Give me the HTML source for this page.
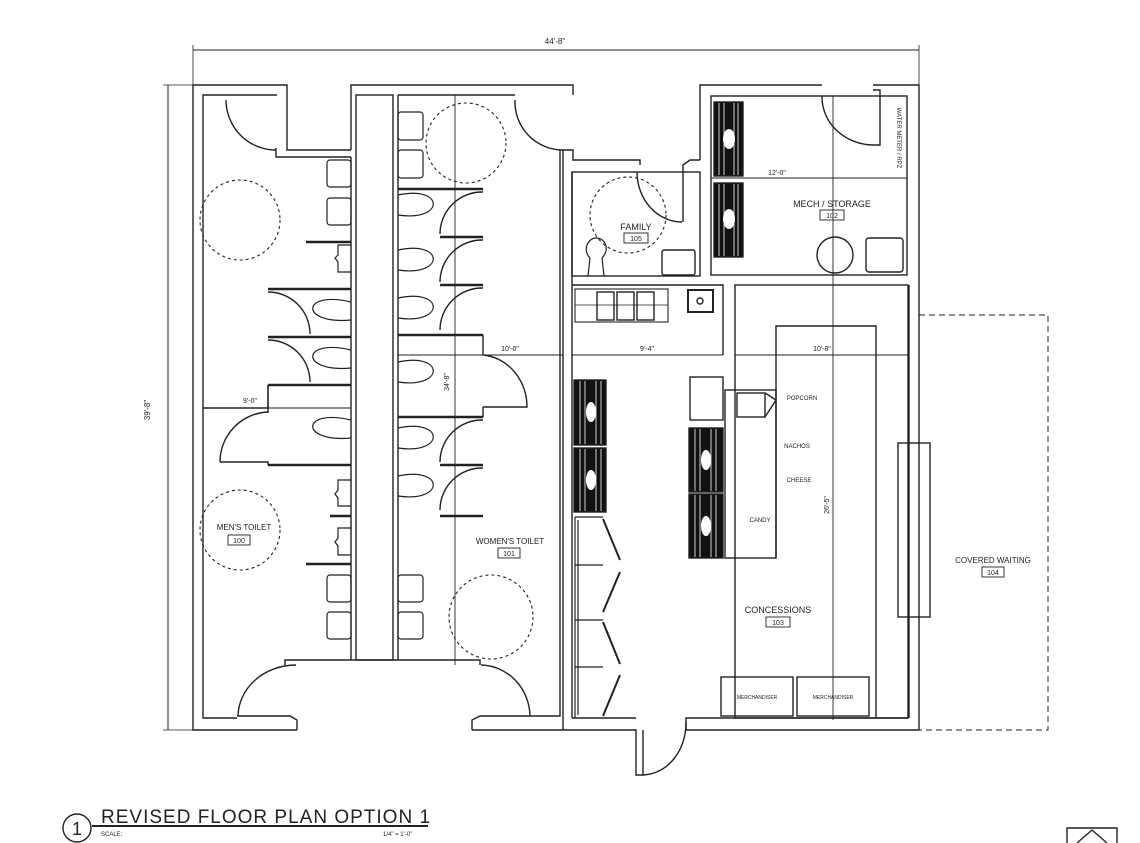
<!DOCTYPE html>
<html><head><meta charset="utf-8"><style>
html,body{margin:0;padding:0;background:#fff;width:1140px;height:843px;overflow:hidden}
svg{display:block}
text{font-family:"Liberation Sans",sans-serif;fill:#222}
</style></head><body>
<svg width="1140" height="843" viewBox="0 0 1140 843" xmlns="http://www.w3.org/2000/svg">
<g fill="none" stroke="#222" stroke-width="1.4">
<line x1="193" y1="50" x2="919" y2="50" stroke-width="1"/>
<line x1="193" y1="45" x2="193" y2="85" stroke-width="0.8"/>
<line x1="919" y1="45" x2="919" y2="85" stroke-width="0.8"/>
<line x1="168" y1="85" x2="168" y2="730" stroke-width="1"/>
<line x1="163" y1="85" x2="193" y2="85" stroke-width="0.8"/>
<line x1="163" y1="730" x2="193" y2="730" stroke-width="0.8"/>

<polyline points="297,730 193,730 193,85 287,85 287,95"/>
<polyline points="237,718 203,718 203,95 277,95"/>
<path d="M226,100 A50,50 0 0 0 276,150"/>
<polyline points="276,148 276,157 351,157"/>
<polyline points="287,95 287,150 351,150"/>
<polyline points="351,150 351,85 573,85 573,95"/>
<rect x="356" y="95" width="37" height="565"/>
<line x1="351" y1="157" x2="351" y2="660"/>
<line x1="398" y1="95" x2="398" y2="660"/>
<line x1="398" y1="95" x2="515" y2="95"/>
<path d="M515,100 A48,48 0 0 0 563,150"/>
<g stroke-width="2.4">
<line x1="306" y1="242" x2="351" y2="242"/>
<line x1="268" y1="289" x2="351" y2="289"/>
<line x1="268" y1="337" x2="351" y2="337"/>
<line x1="268" y1="385" x2="351" y2="385"/>
<line x1="268" y1="465" x2="351" y2="465"/>
<line x1="330" y1="516" x2="351" y2="516"/>
<line x1="306" y1="564" x2="351" y2="564"/>
</g>
<polyline points="268,385 268,408 203,408" stroke-width="1.6"/>
<polyline points="220,462 268,462 268,465"/>
<line x1="268" y1="408" x2="268" y2="413"/>
<path d="M268,292 A42,42 0 0 1 310,334"/>
<path d="M268,340 A42,42 0 0 1 310,382"/>
<path d="M220,462 A50,50 0 0 1 268,412"/>
<g stroke-width="1.2">
<path d="M351,302 C300,290 300,325 351,320"/>
<path d="M351,350 C300,338 300,373 351,368"/>
<path d="M351,420 C300,408 300,443 351,438"/>
<path d="M351,245 L338,245 L338,255 L335,258 L338,262 L338,272 L351,272"/>
<path d="M351,480 L338,480 L338,490 L335,494 L338,498 L338,506 L351,506"/>
<path d="M351,528 L338,528 L338,538 L335,542 L338,546 L338,555 L351,555"/>
<rect x="327" y="160" width="24" height="27" rx="3"/>
<rect x="327" y="198" width="24" height="27" rx="3"/>
<rect x="327" y="575" width="24" height="27" rx="3"/>
<rect x="327" y="612" width="24" height="27" rx="3"/>
</g>
<polyline points="285,665 285,660 480,660 480,665"/>
<path d="M238,716 A58,52 0 0 1 296,665"/>
<polyline points="297,730 297,720 290,716 237,716"/>
<g stroke-width="2.4">
<line x1="398" y1="189" x2="483" y2="189"/>
<line x1="440" y1="237" x2="483" y2="237"/>
<line x1="440" y1="285" x2="483" y2="285"/>
<line x1="398" y1="335" x2="483" y2="335"/>
<line x1="398" y1="417" x2="483" y2="417"/>
<line x1="440" y1="465" x2="483" y2="465"/>
<line x1="440" y1="516" x2="483" y2="516"/>
</g>
<polyline points="483,335 483,355"/>
<polyline points="483,407 483,417"/>
<path d="M483,355 A48,52 0 0 1 527,407 L483,407"/>
<path d="M483,192 A42,42 0 0 0 440,234"/>
<path d="M483,240 A42,42 0 0 0 440,282"/>
<path d="M483,288 A42,42 0 0 0 440,330"/>
<path d="M483,420 A42,42 0 0 0 440,462"/>
<path d="M483,468 A42,42 0 0 0 440,510"/>
<g stroke-width="1.2">
<path d="M398,195 C445,185 445,222 398,215"/>
<path d="M398,250 C445,240 445,277 398,270"/>
<path d="M398,298 C445,288 445,325 398,318"/>
<path d="M398,362 C445,352 445,389 398,382"/>
<path d="M398,428 C445,418 445,455 398,448"/>
<path d="M398,476 C445,466 445,503 398,496"/>
<rect x="398" y="112" width="25" height="28" rx="3"/>
<rect x="398" y="150" width="25" height="28" rx="3"/>
<rect x="398" y="575" width="25" height="27" rx="3"/>
<rect x="398" y="612" width="25" height="27" rx="3"/>
</g>
<path d="M481,665 A50,52 0 0 1 530,716"/>
<polyline points="472,730 472,720 480,716 560,716 560,150"/>
<line x1="472" y1="730" x2="563" y2="730"/>
<g stroke-width="0.9">
<line x1="203" y1="408" x2="351" y2="408"/>
<line x1="398" y1="355" x2="563" y2="355"/>
<line x1="455" y1="95" x2="455" y2="665"/>
<line x1="572" y1="355" x2="723" y2="355"/>
<line x1="735" y1="355" x2="908" y2="355"/>
<line x1="711" y1="178" x2="907" y2="178"/>
<line x1="833" y1="96" x2="833" y2="720"/>
</g>
<g stroke-dasharray="3,3" stroke-width="1.1">
<circle cx="240" cy="220" r="40"/>
<circle cx="240" cy="530" r="40"/>
<circle cx="466" cy="143" r="40"/>
<circle cx="491" cy="617" r="42"/>
<circle cx="628" cy="215" r="38"/>
</g>

<polyline points="563,730 563,150 573,150 573,160 640,160 640,165"/>
<line x1="572" y1="172" x2="572" y2="718"/>
<rect x="572" y="172" width="128" height="104"/>
<path d="M637,172 A45,50 0 0 0 682,222"/>
<polyline points="683,222 683,165 690,160 700,160"/>
<polyline points="700,160 700,85 822,85"/>
<polyline points="873,85 919,85 919,730"/>
<rect x="711" y="96" width="196" height="179"/>
<path d="M822,96 A52,48 0 0 0 873,145"/>
<polyline points="873,145 880,145 880,90 873,90"/>
<line x1="909" y1="285" x2="909" y2="718"/>
<path d="M588,276 L590,258 C582,250 588,238 596,238 C606,238 610,250 602,258 L604,276" stroke-width="1.2"/>
<rect x="662" y="250" width="33" height="25" rx="2"/>
<rect x="714" y="102" width="29" height="74" fill="#111"/>
<rect x="714" y="183" width="29" height="74" fill="#111"/>
<circle cx="835" cy="255" r="18"/>
<rect x="866" y="238" width="37" height="34" rx="3"/>
<polyline points="572,285 723,285 723,355"/>
<rect x="735" y="285" width="173" height="433"/>
<rect x="575" y="289" width="93" height="33" stroke-width="1.1"/>
<line x1="575" y1="305" x2="668" y2="305" stroke-width="0.8"/>
<rect x="597" y="292" width="17" height="28"/><rect x="617" y="292" width="17" height="28"/><rect x="637" y="292" width="17" height="28"/>
<rect x="688" y="290" width="25" height="22" stroke-width="2"/>
<circle cx="700" cy="301" r="3"/>
<polyline points="776,558 776,326 876,326 876,718"/>
<rect x="725" y="390" width="51" height="168"/>
<rect x="737" y="393" width="28" height="24"/>
<polyline points="765,393 776,400 765,417"/>
<rect x="690" y="377" width="33" height="43"/>
<rect x="574" y="380" width="32" height="65" fill="#111"/>
<rect x="574" y="448" width="32" height="64" fill="#111"/>
<rect x="689" y="428" width="34" height="64" fill="#111"/>
<rect x="689" y="494" width="34" height="64" fill="#111"/>
<g stroke-width="1.2">
<line x1="575" y1="517" x2="603" y2="517"/>
<line x1="575" y1="517" x2="575" y2="718"/>
<line x1="578" y1="520" x2="578" y2="715"/>
<line x1="575" y1="565" x2="603" y2="565"/>
<line x1="575" y1="620" x2="603" y2="620"/>
<line x1="575" y1="667" x2="603" y2="667"/>
<line x1="603" y1="519" x2="620" y2="560" stroke-width="2"/>
<line x1="620" y1="572" x2="603" y2="612" stroke-width="2"/>
<line x1="603" y1="622" x2="620" y2="664" stroke-width="2"/>
<line x1="620" y1="675" x2="603" y2="716" stroke-width="2"/>
</g>
<rect x="721" y="677" width="72" height="39"/>
<rect x="797" y="677" width="72" height="39"/>
<polyline points="572,718 636,718"/>
<polyline points="563,730 636,730 636,775 643,775 643,730"/>
<path d="M643,775 A44,52 0 0 0 686,722"/>
<polyline points="686,730 686,718 908,718"/>
<line x1="686" y1="730" x2="919" y2="730"/>
<polyline points="919,315 1048,315 1048,730 919,730" stroke-dasharray="6,4" stroke-width="1"/>
<rect x="898" y="443" width="32" height="174"/>
<circle cx="77" cy="828" r="14"/>
<line x1="92" y1="826" x2="428" y2="826" stroke-width="2"/>
<polyline points="1067,843 1067,828 1117,828 1117,843"/>
<polyline points="1077,843 1092,830 1107,843"/>
</g>
<g stroke="#fff" stroke-width="0.8">
<path d="M580,381v63M585,381v63M596,381v63M601,381v63M580,449v62M585,449v62M596,449v62M601,449v62"/>
<path d="M695,429v62M700,429v62M711,429v62M716,429v62M695,495v62M700,495v62M711,495v62M716,495v62"/>
<path d="M719,103v72M724,103v72M734,103v72M738,103v72M719,184v72M724,184v72M734,184v72M738,184v72"/>
</g>
<g fill="#fff" stroke="none">
<ellipse cx="591" cy="412" rx="5" ry="10"/><ellipse cx="591" cy="480" rx="5" ry="10"/>
<ellipse cx="706" cy="460" rx="5" ry="10"/><ellipse cx="706" cy="526" rx="5" ry="10"/>
<ellipse cx="729" cy="139" rx="6" ry="10"/><ellipse cx="729" cy="219" rx="6" ry="10"/>
</g>
<g font-size="8" text-anchor="middle">
<text x="555" y="44">44'-8"</text>
<text x="250" y="403" font-size="7">9'-0"</text>
<text x="510" y="351" font-size="7">10'-0"</text>
<text x="647" y="351" font-size="7">9'-4"</text>
<text x="822" y="351" font-size="7">10'-8"</text>
<text x="777" y="175" font-size="7">12'-0"</text>
<text font-size="8" transform="translate(150,410) rotate(-90)">39'-8"</text>
<text font-size="7" transform="translate(449,382) rotate(-90)">34'-8"</text>
<text font-size="7" transform="translate(829,505) rotate(-90)">26'-5"</text>
<text font-size="6" transform="translate(897,138) rotate(90)">WATER METER / RPZ</text>
<text x="244" y="530">MEN'S TOILET</text>
<text x="510" y="544">WOMEN'S TOILET</text>
<text x="636" y="230" font-size="9">FAMILY</text>
<text x="832" y="207" font-size="9">MECH / STORAGE</text>
<text x="778" y="613" font-size="9">CONCESSIONS</text>
<text x="993" y="563" font-size="8">COVERED WAITING</text>
<text x="802" y="400" font-size="6">POPCORN</text>
<text x="797" y="448" font-size="6">NACHOS</text>
<text x="799" y="482" font-size="6">CHEESE</text>
<text x="760" y="522" font-size="6">CANDY</text>
<text x="757" y="699" font-size="5">MERCHANDISER</text>
<text x="833" y="699" font-size="5">MERCHANDISER</text>
</g>
<g fill="none" stroke="#222" stroke-width="0.9">
<rect x="228" y="535" width="22" height="10"/>
<rect x="498" y="548" width="22" height="10"/>
<rect x="624" y="233" width="24" height="10"/>
<rect x="820" y="210" width="24" height="10"/>
<rect x="766" y="617" width="24" height="10"/>
<rect x="982" y="567" width="22" height="10"/>
</g>
<g font-size="7" text-anchor="middle">
<text x="239" y="543">100</text><text x="509" y="556">101</text><text x="636" y="241">105</text>
<text x="832" y="218">102</text><text x="778" y="625">103</text><text x="993" y="575">104</text>
</g>
<text x="77" y="835" font-size="18" text-anchor="middle">1</text>
<text x="101" y="823" font-size="19" letter-spacing="1">REVISED FLOOR PLAN OPTION 1</text>
<text x="101" y="836" font-size="6">SCALE:</text>
<text x="383" y="836" font-size="6">1/4" = 1'-0"</text>
</svg>
</body></html>
